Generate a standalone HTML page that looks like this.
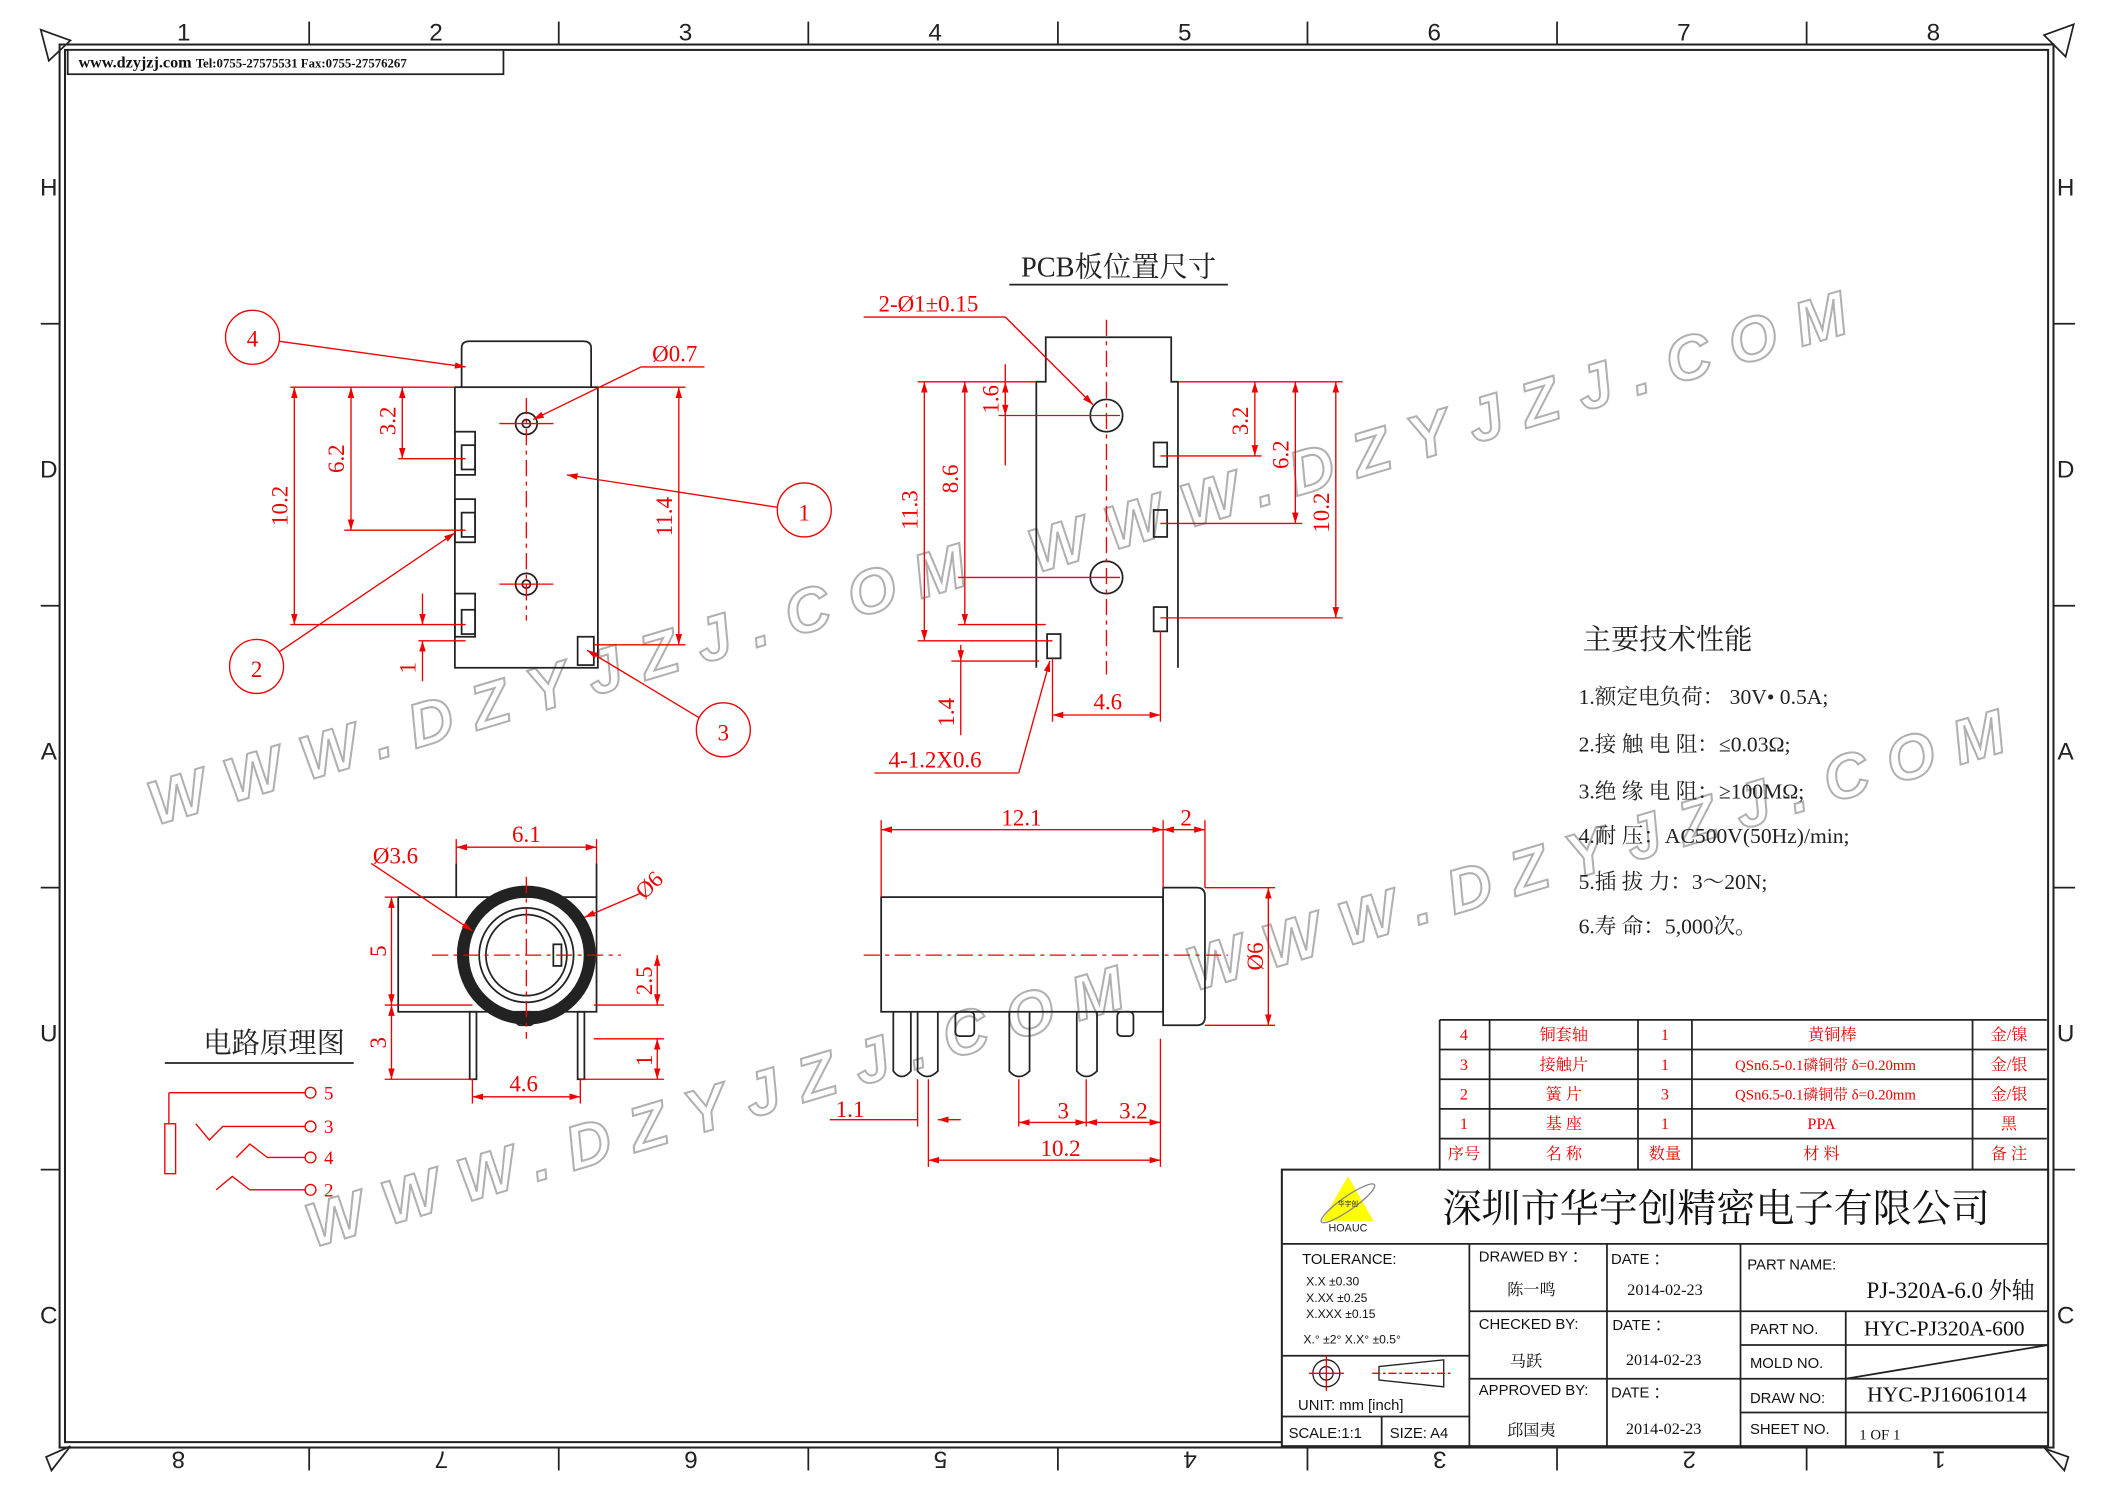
<!DOCTYPE html>
<html><head><meta charset="utf-8"><style>
html,body{margin:0;padding:0;background:#fff;}
svg{display:block;}
text{font-family:"Liberation Sans","Noto Sans CJK SC",sans-serif;}
.s text, text.s{font-family:"Liberation Serif","Noto Serif CJK SC",serif;}
.r{fill:#e00;}
.rl{stroke:#e00;stroke-width:1;fill:none;}
.k{stroke:#222;stroke-width:1.3;fill:none;}
.wm{font-family:"Liberation Sans",sans-serif;font-size:46px;font-weight:bold;fill:none;stroke:#b0b0b0;stroke-width:1.5;font-style:italic;}
</style></head><body>
<svg width="2105" height="1488" viewBox="0 0 1560 1103" xmlns="http://www.w3.org/2000/svg">
<defs>
<marker id="a" viewBox="0 0 10 10" refX="10" refY="5" markerWidth="8" markerHeight="8" orient="auto-start-reverse"><path d="M0,2 L10,5 L0,8z" fill="#e00"/></marker>
</defs>
<!-- frame -->
<rect x="44" y="33" width="1478" height="1040" fill="none" stroke="#222" stroke-width="1.5"/>
<rect x="48" y="37" width="1470" height="1032" fill="none" stroke="#222" stroke-width="1.5"/>
<g stroke="#222" stroke-width="1.3">
<line x1="229" y1="16" x2="229" y2="33"/><line x1="414" y1="16" x2="414" y2="33"/><line x1="599" y1="16" x2="599" y2="33"/><line x1="784" y1="16" x2="784" y2="33"/><line x1="969" y1="16" x2="969" y2="33"/><line x1="1154" y1="16" x2="1154" y2="33"/><line x1="1339" y1="16" x2="1339" y2="33"/>
<line x1="229" y1="1073" x2="229" y2="1090"/><line x1="414" y1="1073" x2="414" y2="1090"/><line x1="599" y1="1073" x2="599" y2="1090"/><line x1="784" y1="1073" x2="784" y2="1090"/><line x1="969" y1="1073" x2="969" y2="1090"/><line x1="1154" y1="1073" x2="1154" y2="1090"/><line x1="1339" y1="1073" x2="1339" y2="1090"/>
<line x1="30" y1="240" x2="44" y2="240"/><line x1="30" y1="449" x2="44" y2="449"/><line x1="30" y1="658" x2="44" y2="658"/><line x1="30" y1="867" x2="44" y2="867"/>
<line x1="1522" y1="240" x2="1538" y2="240"/><line x1="1522" y1="449" x2="1538" y2="449"/><line x1="1522" y1="658" x2="1538" y2="658"/><line x1="1522" y1="867" x2="1538" y2="867"/>
</g>
<g fill="none" stroke="#222" stroke-width="1.3">
<path d="M30,22 L52,30 L36,45z"/><path d="M1537,18 L1515,26 L1531,42z"/><path d="M34,1080 L52,1072 L38,1090z"/><path d="M1533,1080 L1516,1074 L1530,1090z"/>
</g>
<g font-size="18" fill="#222" text-anchor="middle">
<text x="136" y="30">1</text><text x="323" y="30">2</text><text x="508" y="30">3</text><text x="693" y="30">4</text><text x="878" y="30">5</text><text x="1063" y="30">6</text><text x="1248" y="30">7</text><text x="1433" y="30">8</text>
<g transform="rotate(180 784 1083)"><text x="131" y="1090">1</text><text x="316" y="1090">2</text><text x="501" y="1090">3</text><text x="686" y="1090">4</text><text x="871" y="1090">5</text><text x="1056" y="1090">6</text><text x="1241" y="1090">7</text><text x="1436" y="1090">8</text></g>
<text x="36" y="145">H</text><text x="36" y="354">D</text><text x="36" y="563">A</text><text x="36" y="772">U</text><text x="36" y="981">C</text>
<text x="1531" y="145">H</text><text x="1531" y="354">D</text><text x="1531" y="563">A</text><text x="1531" y="772">U</text><text x="1531" y="981">C</text>
</g>
<rect x="50" y="37" width="323" height="18" fill="#fff" stroke="#222" stroke-width="1.3"/>
<text x="58" y="50" class="s" font-size="12" font-weight="bold" fill="#111">www.dzyjzj.com <tspan font-size="9.5">Tel:0755-27575531  Fax:0755-27576267</tspan></text>

<!-- watermarks -->
<text class="wm" transform="translate(115,612) rotate(-16.5)" textLength="630" lengthAdjust="spacing">WWW.DZYJZJ.COM</text>
<text class="wm" transform="translate(232,925) rotate(-16.5)" textLength="630" lengthAdjust="spacing">WWW.DZYJZJ.COM</text>
<text class="wm" transform="translate(768,425) rotate(-16.5)" textLength="630" lengthAdjust="spacing">WWW.DZYJZJ.COM</text>
<text class="wm" transform="translate(885,735) rotate(-16.5)" textLength="630" lengthAdjust="spacing">WWW.DZYJZJ.COM</text>

<!-- Drawing 1 -->
<g class="k">
<path d="M342,287 L342,258 Q342,253 348,253 L432,253 Q438,253 438,258 L438,287"/>
<rect x="337" y="287" width="106" height="208"/>
<circle cx="390" cy="314" r="8"/><circle cx="390" cy="314" r="3"/>
<circle cx="390" cy="433" r="8"/><circle cx="390" cy="433" r="3"/>
<rect x="337" y="320" width="15" height="32"/><rect x="342" y="330" width="10" height="18"/>
<rect x="337" y="370" width="15" height="32"/><rect x="342" y="380" width="10" height="18"/>
<rect x="337" y="440" width="15" height="32"/><rect x="342" y="452" width="10" height="18"/>
<rect x="428" y="472" width="12" height="21"/>
</g>
<line x1="390" y1="295" x2="390" y2="460" stroke="#e00" stroke-dasharray="12,4,3,4"/>
<line x1="370" y1="314" x2="410" y2="314" stroke="#e00"/><line x1="370" y1="433" x2="410" y2="433" stroke="#e00"/>
<g class="rl">
<line x1="215" y1="287" x2="337" y2="287"/><line x1="215" y1="463" x2="345" y2="463"/><line x1="255" y1="393" x2="345" y2="393"/><line x1="295" y1="340" x2="345" y2="340"/>
<line x1="443" y1="287" x2="508" y2="287"/><line x1="440" y1="478" x2="508" y2="478"/>
<line x1="218" y1="287" x2="218" y2="463" marker-start="url(#a)" marker-end="url(#a)"/>
<line x1="260" y1="287" x2="260" y2="393" marker-start="url(#a)" marker-end="url(#a)"/>
<line x1="298" y1="287" x2="298" y2="340" marker-start="url(#a)" marker-end="url(#a)"/>
<line x1="503" y1="287" x2="503" y2="478" marker-start="url(#a)" marker-end="url(#a)"/>
<line x1="313" y1="440" x2="313" y2="463" marker-end="url(#a)"/><line x1="313" y1="505" x2="313" y2="475" marker-end="url(#a)"/><line x1="310" y1="475" x2="345" y2="475"/>
<circle cx="187" cy="250" r="20"/><line x1="207" y1="253" x2="345" y2="272" marker-end="url(#a)"/>
<circle cx="596" cy="378" r="20"/><line x1="576" y1="376" x2="420" y2="352" marker-end="url(#a)"/>
<circle cx="190" cy="494" r="20"/><line x1="207" y1="483" x2="337" y2="395" marker-end="url(#a)"/>
<circle cx="536" cy="541" r="20"/><line x1="518" y1="532" x2="435" y2="482" marker-end="url(#a)"/>
<line x1="475" y1="272" x2="395" y2="311" marker-end="url(#a)"/><line x1="475" y1="272" x2="522" y2="272"/>
</g>
<g class="s r" font-size="17" text-anchor="middle">
<text x="187" y="257">4</text><text x="596" y="386">1</text><text x="190" y="502">2</text><text x="536" y="549">3</text>
<text x="500" y="268">Ø0.7</text>
<text transform="translate(213,375) rotate(-90)">10.2</text>
<text transform="translate(255,340) rotate(-90)">6.2</text>
<text transform="translate(293,312) rotate(-90)">3.2</text>
<text transform="translate(498,383) rotate(-90)">11.4</text>
<text transform="translate(308,495) rotate(-90)">1</text>
</g>

<!-- Drawing 2 PCB -->
<text x="829" y="205" class="s" font-size="21" fill="#222" text-anchor="middle">PCB板位置尺寸</text>
<line x1="748" y1="211" x2="910" y2="211" stroke="#222" stroke-width="1.3"/>
<g class="k">
<path d="M768,495 L768,283 L775,283 L775,250 L868,250 L868,283 L873,283 L873,495"/>
<circle cx="820" cy="308" r="12"/><circle cx="820" cy="428" r="12"/>
<rect x="855" y="328" width="10" height="18"/><rect x="855" y="378" width="10" height="20"/><rect x="855" y="450" width="10" height="18"/><rect x="776" y="470" width="10" height="18"/>
</g>
<line x1="820" y1="237" x2="820" y2="500" stroke="#e00" stroke-dasharray="12,4,3,4"/>
<g class="rl">
<line x1="680" y1="283" x2="768" y2="283"/><line x1="680" y1="475" x2="780" y2="475"/><line x1="710" y1="463" x2="775" y2="463"/><line x1="740" y1="308" x2="830" y2="308"/><line x1="710" y1="428" x2="830" y2="428"/>
<line x1="873" y1="283" x2="995" y2="283"/><line x1="860" y1="338" x2="935" y2="338"/><line x1="860" y1="388" x2="965" y2="388"/><line x1="860" y1="458" x2="995" y2="458"/>
<line x1="685" y1="283" x2="685" y2="475" marker-start="url(#a)" marker-end="url(#a)"/>
<line x1="715" y1="283" x2="715" y2="463" marker-start="url(#a)" marker-end="url(#a)"/>
<line x1="745" y1="283" x2="745" y2="308" marker-start="url(#a)" marker-end="url(#a)"/><line x1="745" y1="270" x2="745" y2="345"/>
<line x1="930" y1="283" x2="930" y2="338" marker-start="url(#a)" marker-end="url(#a)"/>
<line x1="960" y1="283" x2="960" y2="388" marker-start="url(#a)" marker-end="url(#a)"/>
<line x1="990" y1="283" x2="990" y2="458" marker-start="url(#a)" marker-end="url(#a)"/>
<line x1="712" y1="545" x2="712" y2="490"/><line x1="712" y1="478" x2="712" y2="490" marker-end="url(#a)"/><line x1="705" y1="490" x2="770" y2="490"/>
<line x1="780" y1="488" x2="780" y2="535"/><line x1="860" y1="468" x2="860" y2="535"/>
<line x1="780" y1="530" x2="860" y2="530" marker-start="url(#a)" marker-end="url(#a)"/>
<line x1="640" y1="235" x2="745" y2="235"/><line x1="745" y1="235" x2="810" y2="300" marker-end="url(#a)"/>
<line x1="648" y1="573" x2="755" y2="573"/><line x1="755" y1="573" x2="778" y2="490" marker-end="url(#a)"/>
</g>
<g class="s r" font-size="17" text-anchor="middle">
<text x="688" y="231">2-Ø1±0.15</text><text x="693" y="569">4-1.2X0.6</text><text x="821" y="526">4.6</text>
<text transform="translate(680,378) rotate(-90)">11.3</text>
<text transform="translate(710,355) rotate(-90)">8.6</text>
<text transform="translate(740,296) rotate(-90)">1.6</text>
<text transform="translate(925,312) rotate(-90)">3.2</text>
<text transform="translate(955,337) rotate(-90)">6.2</text>
<text transform="translate(985,380) rotate(-90)">10.2</text>
<text transform="translate(707,528) rotate(-90)">1.4</text>
</g>

<!-- Specs -->
<g class="s" fill="#222">
<text x="1173" y="481" font-size="21">主要技术性能</text>
<g font-size="16">
<text x="1170" y="522">1.额定电负荷：  30V• 0.5A;</text>
<text x="1170" y="557">2.接  触  电  阻：≤0.03Ω;</text>
<text x="1170" y="592">3.绝  缘  电  阻：≥100MΩ;</text>
<text x="1170" y="625">4.耐              压：AC500V(50Hz)/min;</text>
<text x="1170" y="659">5.插     拔     力：3～20N;</text>
<text x="1170" y="692">6.寿              命：5,000次。</text>
</g></g>

<!-- Drawing 3 front -->
<g class="k">
<rect x="295" y="665" width="147" height="85"/>
<line x1="338" y1="640" x2="338" y2="665"/><line x1="442" y1="640" x2="442" y2="665"/>
<circle cx="390" cy="708" r="47" stroke-width="9"/>
<circle cx="390" cy="708" r="35"/><circle cx="390" cy="708" r="30"/>
<rect x="410" y="700" width="6" height="16"/>
<rect x="348" y="750" width="5" height="50"/><rect x="428" y="750" width="5" height="50"/>
<rect x="382" y="750" width="14" height="10" rx="4"/>
</g>
<line x1="320" y1="708" x2="460" y2="708" stroke="#e00" stroke-dasharray="12,4,3,4"/>
<line x1="390" y1="650" x2="390" y2="770" stroke="#e00" stroke-dasharray="12,4,3,4"/>
<g class="rl">
<line x1="338" y1="628" x2="442" y2="628" marker-start="url(#a)" marker-end="url(#a)"/><line x1="338" y1="622" x2="338" y2="640"/><line x1="442" y1="622" x2="442" y2="640"/>
<line x1="350" y1="813" x2="430" y2="813" marker-start="url(#a)" marker-end="url(#a)"/><line x1="350" y1="800" x2="350" y2="818"/><line x1="430" y1="800" x2="430" y2="818"/>
<line x1="285" y1="665" x2="295" y2="665"/><line x1="285" y1="745" x2="350" y2="745"/><line x1="285" y1="800" x2="350" y2="800"/>
<line x1="290" y1="665" x2="290" y2="745" marker-start="url(#a)" marker-end="url(#a)"/>
<line x1="290" y1="745" x2="290" y2="800" marker-start="url(#a)" marker-end="url(#a)"/>
<line x1="440" y1="745" x2="492" y2="745"/><line x1="440" y1="770" x2="492" y2="770"/><line x1="430" y1="800" x2="492" y2="800"/>
<line x1="487" y1="708" x2="487" y2="745" marker-start="url(#a)" marker-end="url(#a)"/>
<line x1="487" y1="770" x2="487" y2="800" marker-start="url(#a)" marker-end="url(#a)"/>
<line x1="275" y1="640" x2="350" y2="690" marker-end="url(#a)"/>
<line x1="475" y1="662" x2="433" y2="680" marker-end="url(#a)"/>
</g>
<g class="s r" font-size="17" text-anchor="middle">
<text x="390" y="624">6.1</text><text x="388" y="809">4.6</text><text x="293" y="640">Ø3.6</text>
<text transform="translate(485,660) rotate(-45)">Ø6</text>
<text transform="translate(286,705) rotate(-90)">5</text>
<text transform="translate(286,773) rotate(-90)">3</text>
<text transform="translate(483,727) rotate(-90)">2.5</text>
<text transform="translate(483,786) rotate(-90)">1</text>
</g>

<!-- Drawing 4 side -->
<g class="k">
<rect x="653" y="665" width="209" height="85"/>
<path d="M862,658 L887,658 Q893,658 893,664 L893,754 Q893,760 887,760 L862,760z"/>
<path d="M662,750 V794 Q668,802 675,794 V750"/>
<path d="M680,750 V794 Q687,802 695,794 V750"/>
<rect x="708" y="750" width="14" height="18" rx="3"/>
<path d="M748,750 V794 Q755,802 763,794 V750"/>
<path d="M798,750 V794 Q805,802 813,794 V750"/>
<rect x="828" y="750" width="12" height="18" rx="3"/>
</g>
<line x1="640" y1="708" x2="910" y2="708" stroke="#e00" stroke-dasharray="12,4,3,4"/>
<g class="rl">
<line x1="653" y1="608" x2="653" y2="665"/><line x1="862" y1="608" x2="862" y2="658"/><line x1="893" y1="608" x2="893" y2="658"/>
<line x1="653" y1="615" x2="862" y2="615" marker-start="url(#a)" marker-end="url(#a)"/>
<line x1="862" y1="615" x2="893" y2="615" marker-start="url(#a)" marker-end="url(#a)"/>
<line x1="893" y1="658" x2="945" y2="658"/><line x1="893" y1="760" x2="945" y2="760"/>
<line x1="940" y1="658" x2="940" y2="760" marker-start="url(#a)" marker-end="url(#a)"/>
<line x1="615" y1="830" x2="662" y2="830"/><line x1="662" y1="830" x2="680" y2="830"/><line x1="712" y1="830" x2="695" y2="830" marker-end="url(#a)"/>
<line x1="680" y1="800" x2="680" y2="835"/><line x1="688" y1="800" x2="688" y2="865"/>
<line x1="755" y1="800" x2="755" y2="835"/><line x1="805" y1="800" x2="805" y2="835"/><line x1="860" y1="770" x2="860" y2="865"/>
<line x1="755" y1="832" x2="805" y2="832" marker-start="url(#a)" marker-end="url(#a)"/>
<line x1="805" y1="832" x2="860" y2="832" marker-start="url(#a)" marker-end="url(#a)"/>
<line x1="688" y1="860" x2="860" y2="860" marker-start="url(#a)" marker-end="url(#a)"/>
</g>
<g class="s r" font-size="17" text-anchor="middle">
<text x="757" y="612">12.1</text><text x="879" y="612">2</text><text x="630" y="828">1.1</text><text x="788" y="829">3</text><text x="840" y="829">3.2</text><text x="786" y="857">10.2</text>
<text transform="translate(936,709) rotate(-90)">Ø6</text>
</g>

<!-- circuit -->
<text x="203" y="780" class="s" font-size="21" fill="#222" text-anchor="middle">电路原理图</text>
<line x1="122" y1="788" x2="262" y2="788" stroke="#222" stroke-width="1.3"/>
<g class="rl">
<line x1="125" y1="810" x2="226" y2="810"/><circle cx="230" cy="810" r="4"/>
<line x1="125" y1="810" x2="125" y2="833"/><rect x="122" y="833" width="8" height="37"/>
<path d="M145,833 L155,845 L165,835 L226,835"/><circle cx="230" cy="835" r="4"/>
<path d="M175,858 L185,848 L198,858 L226,858"/><circle cx="230" cy="858" r="4"/>
<path d="M160,882 L172,872 L185,882 L226,882"/><circle cx="230" cy="882" r="4"/>
</g>
<g class="s r" font-size="14"><text x="240" y="815">5</text><text x="240" y="840">3</text><text x="240" y="863">4</text><text x="240" y="887">2</text></g>

<!-- BOM -->
<g stroke="#222" stroke-width="1.3" fill="none">
<line x1="1067" y1="756" x2="1517" y2="756"/><line x1="1067" y1="778" x2="1517" y2="778"/><line x1="1067" y1="800" x2="1517" y2="800"/><line x1="1067" y1="822" x2="1517" y2="822"/><line x1="1067" y1="844" x2="1517" y2="844"/>
<line x1="1067" y1="756" x2="1067" y2="867"/><line x1="1104" y1="756" x2="1104" y2="867"/><line x1="1214" y1="756" x2="1214" y2="867"/><line x1="1254" y1="756" x2="1254" y2="867"/><line x1="1462" y1="756" x2="1462" y2="867"/>
</g>
<g class="s r" font-size="12" text-anchor="middle">
<text x="1085" y="771">4</text><text x="1159" y="771">铜套轴</text><text x="1234" y="771">1</text><text x="1358" y="771">黄铜棒</text><text x="1489" y="771">金/镍</text>
<text x="1085" y="793">3</text><text x="1159" y="793">接触片</text><text x="1234" y="793">1</text><text x="1353" y="793" font-size="11">QSn6.5-0.1磷铜带 δ=0.20mm</text><text x="1489" y="793">金/银</text>
<text x="1085" y="815">2</text><text x="1159" y="815">簧  片</text><text x="1234" y="815">3</text><text x="1353" y="815" font-size="11">QSn6.5-0.1磷铜带 δ=0.20mm</text><text x="1489" y="815">金/银</text>
<text x="1085" y="837">1</text><text x="1159" y="837">基  座</text><text x="1234" y="837">1</text><text x="1350" y="837">PPA</text><text x="1489" y="837">黑</text>
<text x="1085" y="859">序号</text><text x="1159" y="859">名  称</text><text x="1234" y="859">数量</text><text x="1350" y="859">材        料</text><text x="1489" y="859">备 注</text>
</g>

<!-- Title block -->
<rect x="950" y="867" width="568" height="205" fill="#fff" stroke="#222" stroke-width="1.5"/>
<g stroke="#222" stroke-width="1.3">
<line x1="950" y1="922" x2="1518" y2="922"/>
<line x1="1089" y1="922" x2="1089" y2="1072"/><line x1="1191" y1="922" x2="1191" y2="1072"/><line x1="1290" y1="922" x2="1290" y2="1072"/>
<line x1="1089" y1="972" x2="1518" y2="972"/><line x1="1089" y1="1022" x2="1518" y2="1022"/>
<line x1="1290" y1="997" x2="1518" y2="997"/><line x1="1290" y1="1047" x2="1518" y2="1047"/>
<line x1="1368" y1="972" x2="1368" y2="1072"/>
<line x1="1368" y1="1022" x2="1518" y2="997"/>
<line x1="950" y1="1005" x2="1089" y2="1005"/><line x1="950" y1="1050" x2="1089" y2="1050"/><line x1="1024" y1="1050" x2="1024" y2="1072"/>
</g>
<path d="M999,872 L980,905 L1018,905z" fill="#ff0"/>
<ellipse cx="999" cy="892" rx="24" ry="5" fill="none" stroke="#888" transform="rotate(-35 999 892)"/>
<text x="999" y="894" font-size="5" text-anchor="middle" fill="#222">华宇创</text>
<text x="999" y="913" font-size="8" text-anchor="middle" fill="#222">HOAUC</text>
<text x="1272" y="906" class="s" font-size="29" text-anchor="middle" fill="#111">深圳市华宇创精密电子有限公司</text>
<g font-size="11" fill="#111">
<text x="965" y="937">TOLERANCE:</text>
<text x="968" y="953" font-size="9">X.X     ±0.30</text>
<text x="968" y="965" font-size="9">X.XX    ±0.25</text>
<text x="968" y="977" font-size="9">X.XXX  ±0.15</text>
<text x="966" y="996" font-size="9">X.°  ±2°       X.X°  ±0.5°</text>
<text x="962" y="1045">UNIT:  mm  [inch]</text>
<text x="955" y="1066">SCALE:1:1</text><text x="1030" y="1066">SIZE:  A4</text>
<text x="1096" y="935">DRAWED  BY ：</text><text x="1194" y="937">DATE ：</text>
<text x="1096" y="985">CHECKED  BY:</text><text x="1195" y="986">DATE ：</text>
<text x="1096" y="1034">APPROVED  BY:</text><text x="1194" y="1036">DATE ：</text>
<text x="1295" y="941">PART  NAME:</text>
<text x="1297" y="989">PART  NO.</text><text x="1297" y="1014">MOLD  NO.</text><text x="1297" y="1040">DRAW  NO:</text><text x="1297" y="1063">SHEET  NO.</text>
</g>
<g class="s" fill="#111">
<text x="1135" y="960" font-size="12" text-anchor="middle">陈一鸣</text><text x="1234" y="960" font-size="12" text-anchor="middle">2014-02-23</text>
<text x="1131" y="1013" font-size="12" text-anchor="middle">马跃</text><text x="1233" y="1012" font-size="12" text-anchor="middle">2014-02-23</text>
<text x="1135" y="1064" font-size="12" text-anchor="middle">邱国夷</text><text x="1233" y="1063" font-size="12" text-anchor="middle">2014-02-23</text>
<text x="1508" y="962" font-size="17" text-anchor="end">PJ-320A-6.0 外轴</text>
<text x="1441" y="990" font-size="16" text-anchor="middle">HYC-PJ320A-600</text>
<text x="1443" y="1039" font-size="16" text-anchor="middle">HYC-PJ16061014</text>
<text x="1378" y="1067" font-size="11">1 OF 1</text>
</g>
<g fill="none" stroke="#222">
<circle cx="983" cy="1018" r="10"/><circle cx="983" cy="1018" r="5"/>
<path d="M1022,1013 L1070,1008 L1070,1028 L1022,1023z"/>
</g>
<g stroke="#e00"><line x1="970" y1="1018" x2="996" y2="1018"/><line x1="983" y1="1005" x2="983" y2="1031"/><line x1="1017" y1="1018" x2="1075" y2="1018" stroke-dasharray="6,2,2,2"/></g>
</svg>
</body></html>
